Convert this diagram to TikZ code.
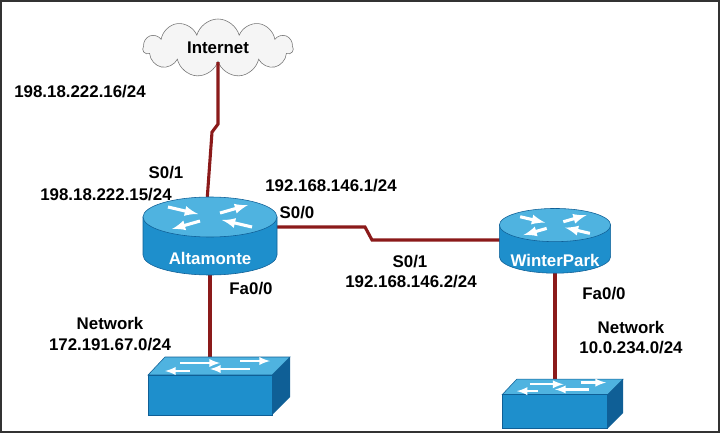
\documentclass[tikz,border=0pt]{standalone}
\usepackage{fontspec}
\setmainfont{Liberation Sans}
\usetikzlibrary{shapes.symbols, arrows, positioning, backgrounds}
\definecolor{serialred}{HTML}{8B1A1A}
\definecolor{ciscolight}{HTML}{4FB3E0}
\definecolor{ciscomid}{HTML}{1E8FCC}
\definecolor{ciscodark}{HTML}{0F5F96}

\tikzset{
    router/.pic={
        \fill[ciscomid, draw=ciscodark] (-67,-18) -- (-67,20) arc (180:0:67 and 20) -- (67,-18) -- cycle;
        \fill[ciscolight, draw=ciscodark] (0,-18) ellipse (67 and 20);
        \draw[white, line width=2.2pt, -latex] (-42,-28) -- (-12,-21);
        \draw[white, line width=2.2pt, -latex] (42,-8) -- (12,-15);
        \draw[white, line width=2.2pt, -latex] (10,-22) -- (38,-30);
        \draw[white, line width=2.2pt, -latex] (-10,-14) -- (-38,-6);
    },
    switch/.pic={
        \fill[ciscolight, draw=ciscodark] (-45,-28) -- (80,-28) -- (62,-10) -- (-62,-10) -- cycle;
        \fill[ciscomid, draw=ciscodark] (-62,-10) rectangle (62,30);
        \fill[ciscodark] (62,-10) -- (80,-28) -- (80,12) -- (62,30) -- cycle;
        \draw[white, line width=1.6pt, -latex] (-30,-22) -- (10,-22);
        \draw[white, line width=1.6pt, -latex] (40,-16) -- (0,-16);
        \draw[white, line width=1.6pt, -latex] (-20,-14) -- (-45,-14);
        \draw[white, line width=1.6pt, -latex] (30,-24) -- (60,-24);
    },
    link/.style={serialred, line width=2.2pt},
    label/.style={font=\fontsize{12}{14}\selectfont\bfseries, inner sep=0pt},
    rname/.style={font=\fontsize{12}{14}\selectfont\bfseries, text=white, inner sep=0pt},
    anchorbox/.style={inner sep=0pt, minimum width=1pt, minimum height=1pt}
}

\begin{document}
\begin{tikzpicture}[x=0.025cm, y=-0.025cm]
\useasboundingbox (0,0) rectangle (720,433);
\draw[line width=1.2pt, black!80] (1,1) rectangle (719,432);

% Devices
\node[cloud, cloud puffs=11, aspect=2.6, draw=black!55, fill=black!4, minimum width=150*0.025cm, minimum height=58*0.025cm, label] (internet) at (218,48) {Internet};
\node[anchorbox] (altamonte) at (210,235) {};
\node[anchorbox] (winterpark) at (555,240) {};
\node[anchorbox] (sw1) at (210,385) {};
\node[anchorbox] (sw2) at (555,403) {};

% Links
\draw[link] (internet.south) -- ++(0,62) -- ++(-6,8) -- (206,215);
\draw[link] (altamonte.center) ++(0,-8) -- (365,227) -- (372,240) -- (winterpark.center);
\draw[link] (altamonte.center) -- (sw1.center);
\draw[link] (winterpark.center) -- (sw2.center);

\pic at (sw1) {switch};
\pic[scale=0.85] at (sw2) {switch};
\pic at (altamonte) {router};
\pic[scale=0.83] at (winterpark) {router};
\node[rname] at (210,258) {Altamonte};
\node[rname] at (555,260) {WinterPark};

% Addresses
\node[label] at (80,92) {198.18.222.16/24};
\node[label] at (166,173) {S0/1};
\node[label] at (106,195) {198.18.222.15/24};
\node[label] at (331,186) {192.168.146.1/24};
\node[label] at (297,213) {S0/0};
\node[label] at (410,262) {S0/1};
\node[label] at (411,282) {192.168.146.2/24};
\node[label] at (251,289) {Fa0/0};
\node[label] at (110,323) {Network};
\node[label] at (110,345) {172.191.67.0/24};
\node[label] at (604,294) {Fa0/0};
\node[label] at (631,327) {Network};
\node[label] at (631,348) {10.0.234.0/24};
\end{tikzpicture}
\end{document}
